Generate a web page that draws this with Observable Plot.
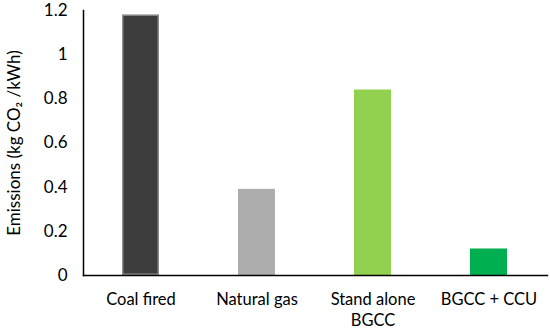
<!DOCTYPE html>
<html>
<head>
<meta charset="utf-8">
<script src="https://cdn.jsdelivr.net/npm/d3@7"></script>
<script src="https://cdn.jsdelivr.net/npm/@observablehq/plot@0.6"></script>
<style>
  html, body { margin: 0; padding: 0; background: #fff; }
  svg { display: block; }
</style>
</head>
<body>
<div id="chart"></div>
<script>
const categories = ["Coal fired", "Natural gas", "Stand alone BGCC", "BGCC + CCU"];
const tickLabels = ["Coal fired", "Natural gas", "Stand alone\nBGCC", "BGCC + CCU"];
const emissions = [1.18, 0.39, 0.84, 0.12];
const colors = ["#3d3d3d", "#adadad", "#92d050", "#00b050"];
const strokes = ["#8a8a8a", "#adadad", "#92d050", "#00b050"];
const yTicks = [0, 0.2, 0.4, 0.6, 0.8, 1, 1.2];
const yTickLabels = ["0", "0.2", "0.4", "0.6", "0.8", "1", "1.2"];

const data = categories.map((c, i) => ({cat: c, value: emissions[i], fill: colors[i], stroke: strokes[i]}));

const chart = Plot.plot({
  width: 550,
  height: 332,
  marginLeft: 83,
  marginRight: 3,
  marginTop: 10,
  marginBottom: 57,
  style: {fontFamily: "Lato, 'Open Sans', sans-serif", fontSize: "17px", color: "#000", background: "#fff"},
  x: {domain: categories, paddingInner: 0.68, paddingOuter: 0.34},
  y: {domain: [0, 1.2]},
  marks: [
    Plot.barY(data, {x: "cat", y: "value", fill: "fill", stroke: "stroke", strokeWidth: 1.5, inset: 0.75}),
    Plot.axisY({
      ticks: yTicks,
      tickFormat: d => yTickLabels[yTicks.indexOf(d)],
      tickSize: 0,
      tickPadding: 16,
      fontSize: 17,
      label: "Emissions (kg CO₂ /kWh)",
      labelAnchor: "center",
      labelArrow: "none",
      labelOffset: 76
    }),
    Plot.axisX({
      tickSize: 0,
      tickPadding: 14,
      fontSize: 16.5,
      lineHeight: 1.3,
      tickFormat: d => tickLabels[categories.indexOf(d)],
      label: null
    }),
    Plot.frame({anchor: "left", stroke: "#000", strokeWidth: 1.5}),
    Plot.frame({anchor: "bottom", stroke: "#000", strokeWidth: 1.5})
  ]
});
document.getElementById("chart").appendChild(chart);
</script>
</body>
</html>
